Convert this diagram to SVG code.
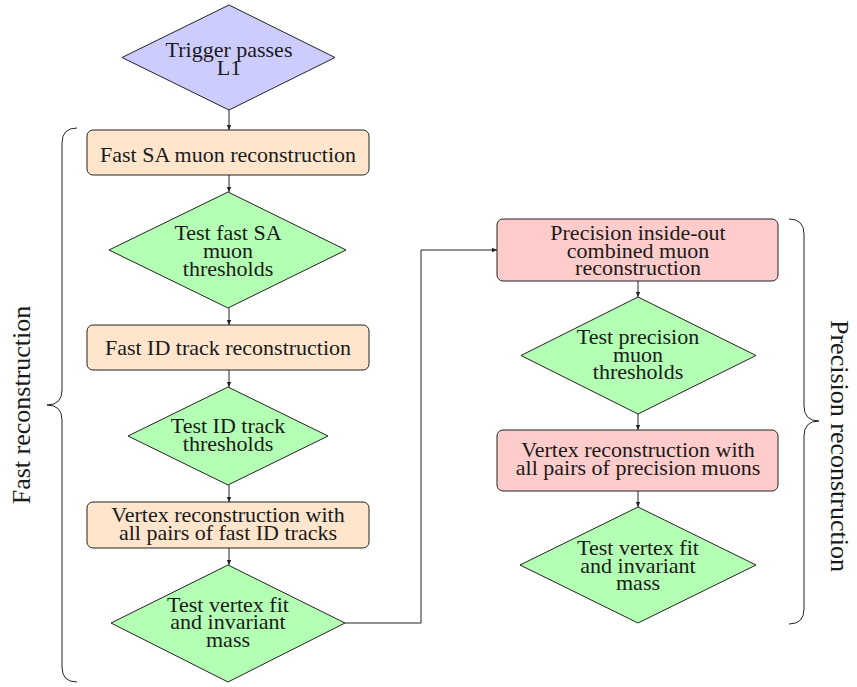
<svg xmlns="http://www.w3.org/2000/svg" width="857" height="687" viewBox="0 0 857 687">
<style>
text{font-family:"Liberation Serif","Times New Roman",serif;font-size:22px;fill:#1a1a1a;text-anchor:middle}
.lbl{font-size:26px}
.box{stroke:#222;stroke-width:1}
.o{fill:#ffe5cc}
.r{fill:#ffcccc}
.g{fill:#b3ffb3;stroke:#222;stroke-width:1}
.b{fill:#ccccff;stroke:#222;stroke-width:1}
.c{fill:none;stroke:#222;stroke-width:1}
.br{fill:none;stroke:#222;stroke-width:1}
</style>
<defs>
<marker id="ah" markerWidth="6" markerHeight="6" refX="5" refY="3" orient="auto" markerUnits="userSpaceOnUse">
<path d="M0,0.8 L5,3 L0,5.2 Z" fill="#222"/>
</marker>
</defs>
<rect width="857" height="687" fill="#fff"/>
<g id="connectors">
<line class="c" x1="229" y1="110" x2="229" y2="130" marker-end="url(#ah)"/>
<line class="c" x1="229" y1="175" x2="229" y2="192" marker-end="url(#ah)"/>
<line class="c" x1="229" y1="308" x2="229" y2="325" marker-end="url(#ah)"/>
<line class="c" x1="229" y1="370" x2="229" y2="387" marker-end="url(#ah)"/>
<line class="c" x1="229" y1="485" x2="229" y2="502" marker-end="url(#ah)"/>
<line class="c" x1="229" y1="548" x2="229" y2="565" marker-end="url(#ah)"/>
<polyline class="c" points="345,623 421,623 421,250 497,250" marker-end="url(#ah)"/>
<line class="c" x1="638" y1="281" x2="638" y2="297" marker-end="url(#ah)"/>
<line class="c" x1="638" y1="414" x2="638" y2="430" marker-end="url(#ah)"/>
<line class="c" x1="638" y1="491" x2="638" y2="507" marker-end="url(#ah)"/>
</g>
<g id="n_trigger">
<polygon class="b" points="229,5 335,57.5 229,110 122,57.5"/>
<text x="229" y="57">Trigger passes</text>
<text x="229" y="75">L1</text>
</g>
<g id="n_fastsa">
<rect class="box o" x="87" y="130" width="282" height="45" rx="6"/>
<text x="228" y="162">Fast SA muon reconstruction</text>
</g>
<g id="n_testsa">
<polygon class="g" points="228,192 346,250 228,308 109,250"/>
<text x="228" y="240">Test fast SA</text>
<text x="228" y="258">muon</text>
<text x="228" y="276">thresholds</text>
</g>
<g id="n_fastid">
<rect class="box o" x="87" y="325" width="282" height="45" rx="6"/>
<text x="228" y="355">Fast ID track reconstruction</text>
</g>
<g id="n_testid">
<polygon class="g" points="228,387 328,436 228,485 128,436"/>
<text x="228" y="433">Test ID track</text>
<text x="228" y="451">thresholds</text>
</g>
<g id="n_vtxfast">
<rect class="box o" x="87" y="502" width="282" height="46" rx="6"/>
<text x="228" y="522">Vertex reconstruction with</text>
<text x="228" y="540">all pairs of fast ID tracks</text>
</g>
<g id="n_testvtxfast">
<polygon class="g" points="228,565 345,623 228,682 111,623"/>
<text x="228" y="612">Test vertex fit</text>
<text x="228" y="629">and invariant</text>
<text x="228" y="647">mass</text>
</g>
<g id="n_prec">
<rect class="box r" x="497" y="219" width="281" height="62" rx="6"/>
<text x="638" y="240">Precision inside-out</text>
<text x="638" y="258">combined muon</text>
<text x="638" y="275">reconstruction</text>
</g>
<g id="n_testprec">
<polygon class="g" points="638,297 756,355.5 638,414 521,355.5"/>
<text x="638" y="344">Test precision</text>
<text x="638" y="362">muon</text>
<text x="638" y="379">thresholds</text>
</g>
<g id="n_vtxprec">
<rect class="box r" x="497" y="430" width="281" height="61" rx="6"/>
<text x="638" y="457">Vertex reconstruction with</text>
<text x="638" y="475">all pairs of precision muons</text>
</g>
<g id="n_testvtxprec">
<polygon class="g" points="638,507 756,565 638,623 520,565"/>
<text x="638" y="555">Test vertex fit</text>
<text x="638" y="573">and invariant</text>
<text x="638" y="590">mass</text>
</g>
<g id="brace_fast">
<path class="br" d="M77,128 Q62,128 62,143 L62,390 Q62,405 47,405 Q62,405 62,420 L62,667 Q62,682 77,682"/>
<text class="lbl" x="22" y="405" transform="rotate(-90 22 405)" dy="8">Fast reconstruction</text>
</g>
<g id="brace_prec">
<path class="br" d="M789,219 Q804,219 804,234 L804,406 Q804,421 819,421 Q804,421 804,436 L804,609 Q804,624 789,624"/>
<text class="lbl" x="839" y="446" transform="rotate(90 839 446)" dy="8">Precision reconstruction</text>
</g>
</svg>
